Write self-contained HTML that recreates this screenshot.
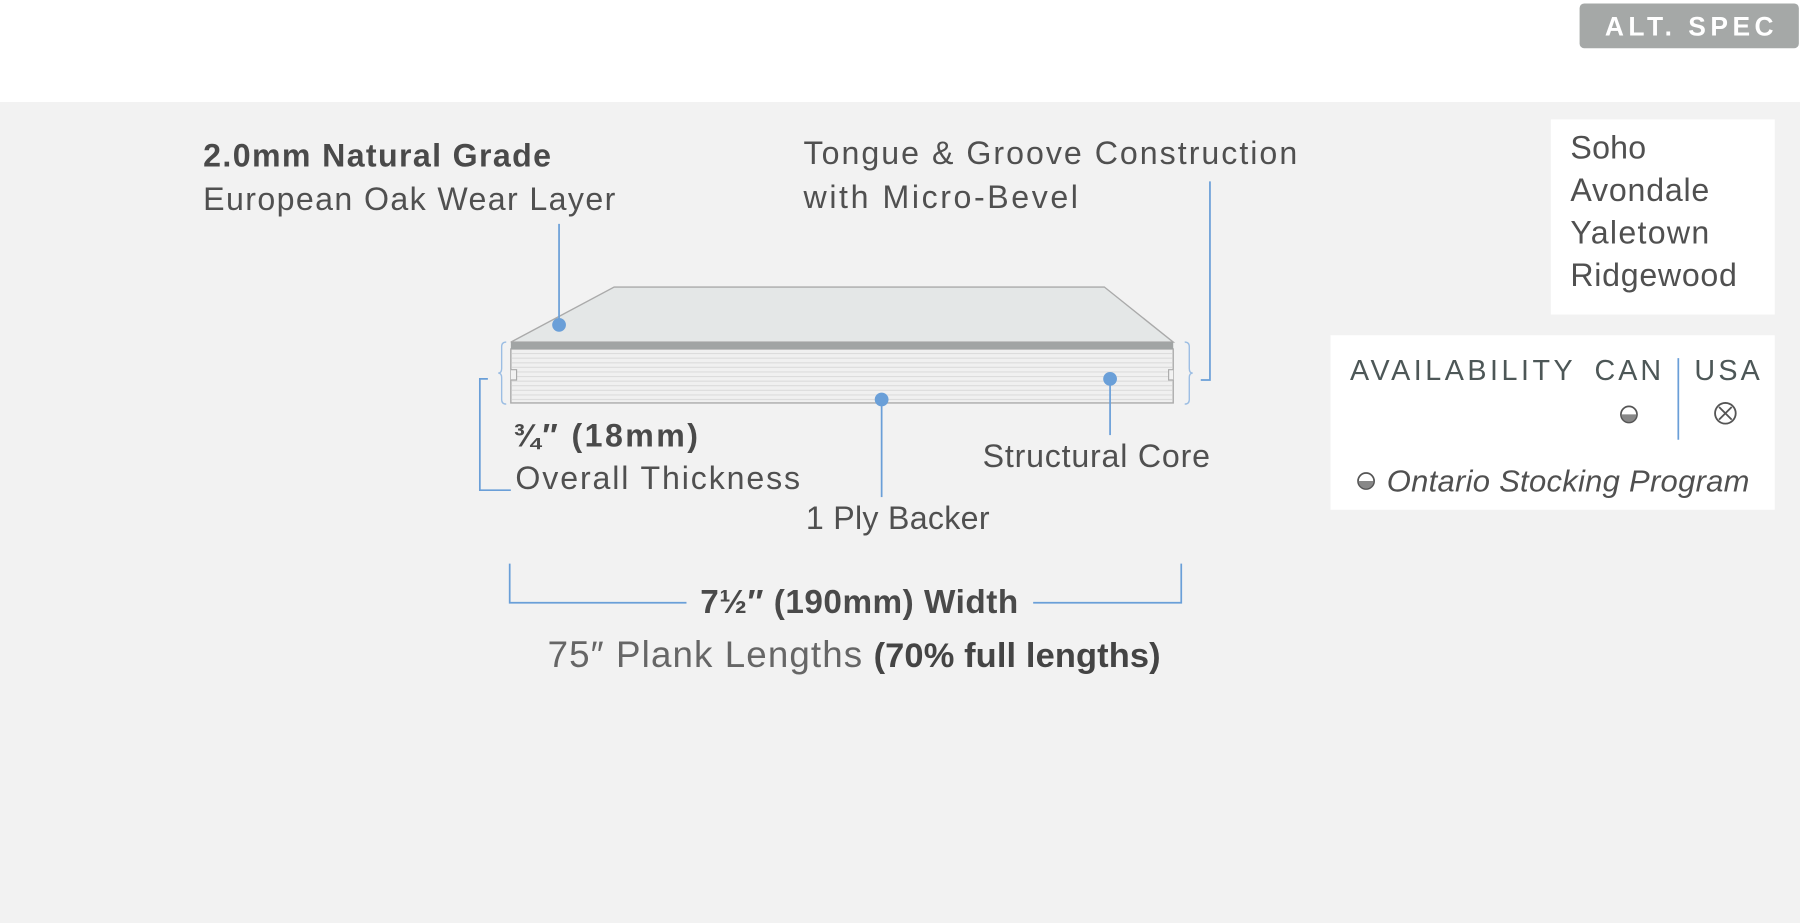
<!DOCTYPE html>
<html><head><meta charset="utf-8"><style>
html,body{margin:0;padding:0;width:1800px;height:923px;overflow:hidden;background:#f2f2f2}
svg{display:block}
text{font-family:"Liberation Sans",sans-serif;fill:#505050}
.b{font-weight:bold;fill:#4a4a4a}
</style></head><body>
<svg width="1800" height="923" viewBox="0 0 1568 804" preserveAspectRatio="none" xmlns="http://www.w3.org/2000/svg">
<rect x="0" y="0" width="1568" height="89" fill="#ffffff"/>
<rect x="0" y="89" width="1568" height="715" fill="#f2f2f2"/>
<rect x="1376" y="3" width="191" height="39" rx="4" fill="#a5a8a7"/>
<text x="1398" y="31" font-size="23" font-weight="bold" textLength="147" lengthAdjust="spacing" style="fill:#fff">ALT. SPEC</text>
<rect x="1351" y="104" width="195" height="170" fill="#fff"/>
<g font-size="28">
<text x="1368" y="138" textLength="66" lengthAdjust="spacing">Soho</text>
<text x="1368" y="175" textLength="121" lengthAdjust="spacing">Avondale</text>
<text x="1368" y="212" textLength="121" lengthAdjust="spacing">Yaletown</text>
<text x="1368" y="249" textLength="145" lengthAdjust="spacing">Ridgewood</text></g>
<rect x="1159" y="292" width="387" height="152" fill="#fff"/>
<g font-size="25">
<text x="1176" y="331" textLength="194" lengthAdjust="spacing" style="fill:#4d5757">AVAILABILITY</text>
<text x="1389" y="331" textLength="58" lengthAdjust="spacing" style="fill:#4d5757">CAN</text>
<text x="1476" y="331" textLength="57" lengthAdjust="spacing" style="fill:#4d5757">USA</text></g>
<line x1="1462" y1="312" x2="1462" y2="383" stroke="#6a9fd8" stroke-width="1.5"/>
<circle cx="1419" cy="361" r="7" fill="#fff" stroke="#555" stroke-width="1.5"/>
<path d="M1412.5 361 A6.5 6.5 0 0 0 1425.5 361 Z" fill="#888"/>
<circle cx="1503" cy="360" r="9" fill="none" stroke="#555" stroke-width="1.6"/>
<path d="M1497.5 354.5 L1508.5 365.5 M1508.5 354.5 L1497.5 365.5" stroke="#555" stroke-width="1.6"/>
<circle cx="1190" cy="419" r="7" fill="#fff" stroke="#555" stroke-width="1.5"/>
<path d="M1183.5 419 A6.5 6.5 0 0 0 1196.5 419 Z" fill="#888"/>
<text x="1208" y="428" font-size="27" font-style="italic" textLength="316" lengthAdjust="spacing">Ontario Stocking Program</text>
<text x="177" y="145" font-size="28" class="b" textLength="303" lengthAdjust="spacing">2.0mm Natural Grade</text>
<text x="177" y="183" font-size="28" textLength="359" lengthAdjust="spacing">European Oak Wear Layer</text>
<text x="700" y="143" font-size="28" textLength="430" lengthAdjust="spacing">Tongue &amp; Groove Construction</text>
<text x="700" y="181" font-size="28" textLength="239" lengthAdjust="spacing">with Micro-Bevel</text>
<text x="856" y="407" font-size="28" textLength="198" lengthAdjust="spacing">Structural Core</text>
<text x="702" y="461" font-size="28" textLength="160" lengthAdjust="spacing">1 Ply Backer</text>
<text x="447" y="389" font-size="28" class="b" textLength="161" lengthAdjust="spacing">¾″ (18mm)</text>
<text x="449" y="426" font-size="28" textLength="248" lengthAdjust="spacing">Overall Thickness</text>
<text x="610" y="534" font-size="29" class="b" textLength="277" lengthAdjust="spacing">7½″ (190mm) Width</text>
<text x="477" y="581" font-size="32" textLength="274" lengthAdjust="spacing" style="fill:#666">75″ Plank Lengths</text>
<text x="761" y="581" font-size="30" class="b" textLength="250" lengthAdjust="spacing" style="fill:#444">(70% full lengths)</text>
<polygon points="445,298 535,250 962,250 1022,298" fill="#e4e7e7" stroke="#aaa" stroke-width="1.2"/>
<rect x="445" y="304" width="577" height="47" fill="#f0f0f0" stroke="#aaa" stroke-width="1.2"/>
<g stroke="#dcdcdc" stroke-width="1">
<line x1="446" y1="308" x2="1021" y2="308"/><line x1="446" y1="312" x2="1021" y2="312"/><line x1="446" y1="316" x2="1021" y2="316"/><line x1="446" y1="320" x2="1021" y2="320"/><line x1="446" y1="324" x2="1021" y2="324"/><line x1="446" y1="328" x2="1021" y2="328"/><line x1="446" y1="332" x2="1021" y2="332"/><line x1="446" y1="336" x2="1021" y2="336"/><line x1="446" y1="340" x2="1021" y2="340"/><line x1="446" y1="344" x2="1021" y2="344"/><line x1="446" y1="348" x2="1021" y2="348"/>
</g>
<rect x="445" y="298" width="577" height="6" fill="#a1a4a4"/>
<path d="M445 322 h5 v9 h-5" fill="#f2f2f2" stroke="#aaa"/>
<path d="M1022 322 h-4 v9 h4" fill="#f2f2f2" stroke="#aaa"/>
<path d="M441 298 q-4 0 -4 4 v19 q0 4 -3 4 q3 0 3 4 v19 q0 4 4 4" fill="none" stroke="#9bbde3" stroke-width="1.2"/>
<path d="M1032 298 q4 0 4 4 v19 q0 4 3 4 q-3 0 -3 4 v19 q0 4 -4 4" fill="none" stroke="#9bbde3" stroke-width="1.2"/>
<g stroke="#6a9fd8" stroke-width="1.5" fill="none">
<line x1="487" y1="195" x2="487" y2="283"/>
<polyline points="1054,158 1054,331 1046,331"/>
<line x1="967" y1="330" x2="967" y2="379"/>
<line x1="768" y1="348" x2="768" y2="433"/>
<polyline points="425,330 418,330 418,427 445,427"/>
<polyline points="444,491 444,525 598,525"/>
<polyline points="1029,491 1029,525 900,525"/>
</g>
<g fill="#6a9fd8"><circle cx="487" cy="283" r="6"/><circle cx="967" cy="330" r="6"/><circle cx="768" cy="348" r="6"/></g>
</svg>
</body></html>
